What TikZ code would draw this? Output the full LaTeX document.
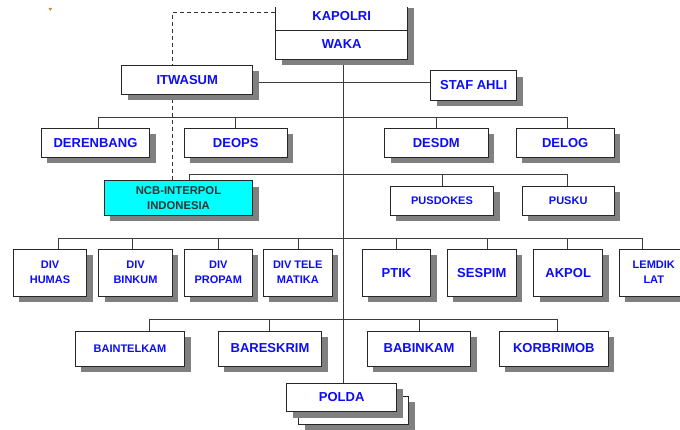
\documentclass[tikz,border=0pt]{standalone}
\usepackage{fontspec}
\setmainfont{Liberation Sans}
\usetikzlibrary{shadows,backgrounds}
\definecolor{shd}{RGB}{128,128,128}
\definecolor{txtblue}{RGB}{12,12,245}
\definecolor{ncbcyan}{RGB}{0,255,255}
\definecolor{lncol}{RGB}{60,60,60}
\tikzset{
  bx/.style={draw=black!85, line width=0.8pt, fill=white, inner sep=0pt,
    font=\bfseries\fontsize{13}{15}\selectfont, text=txtblue, align=center,
    drop shadow={shadow xshift=6pt, shadow yshift=-6pt, fill=shd, opacity=1}},
  sm/.style={font=\bfseries\fontsize{11}{15}\selectfont},
  wh/.style 2 args={minimum width=#1pt, minimum height=#2pt},
  ln/.style={draw=lncol, line width=0.7pt},
  dashln/.style={draw=black!80, line width=0.7pt, dash pattern=on 4pt off 3pt},
}
\begin{document}
\begin{tikzpicture}[x=1pt,y=-1pt]
\useasboundingbox (0,0) rectangle (680,430);
\begin{scope}
\clip (-2,8) rectangle (682,432);
\fill[brown!70!orange] (48.5,8) -- (52,8) -- (50.3,11) -- cycle;
% top
\node[bx, wh={132}{28}] (kapolri) at (341.7,16) {KAPOLRI};
\node[bx, wh={132}{29}] (waka) at (341.7,44.5) {WAKA};
\node[bx, wh={131}{29.3}] (itwasum) at (187.2,79.7) {ITWASUM};
\node[bx, wh={86}{29.3}] (stafahli) at (473.7,85.3) {STAF AHLI};
% level 2
\node[bx, wh={108.4}{29}] (derenbang) at (95.5,142.8) {DERENBANG};
\node[bx, wh={102.7}{29}] (deops) at (235.7,142.8) {DEOPS};
\node[bx, wh={103.3}{29}] (desdm) at (436.3,142.8) {DESDM};
\node[bx, wh={97.7}{29}] (delog) at (565.2,142.8) {DELOG};
% level 3
\node[bx, wh={148.4}{34.6}, fill=ncbcyan, text=black!80, font=\bfseries\fontsize{11.3}{14.7}\selectfont] (ncb) at (178.5,198) {NCB-INTERPOL\\INDONESIA};
\node[bx, sm, wh={103.4}{29}] (pusdokes) at (442,200.8) {PUSDOKES};
\node[bx, sm, wh={91.7}{29}] (pusku) at (568.2,200.8) {PUSKU};
% level 4
\node[bx, sm, wh={73.4}{46.7}] (humas) at (50,272.7) {DIV\\HUMAS};
\node[bx, sm, wh={73.6}{46.7}] (binkum) at (135.5,272.7) {DIV\\BINKUM};
\node[bx, sm, wh={68}{46.7}] (propam) at (218.3,272.7) {DIV\\PROPAM};
\node[bx, sm, wh={69}{46.7}] (telematika) at (297.8,272.7) {DIV TELE\\MATIKA};
\node[bx, wh={68.4}{46.7}] (ptik) at (396.5,272.7) {PTIK};
\node[bx, wh={69}{46.7}] (sespim) at (481.8,272.7) {SESPIM};
\node[bx, wh={69}{46.7}] (akpol) at (568.2,272.7) {AKPOL};
\node[bx, sm, wh={69}{46.7}] (lemdik) at (653.8,272.7) {LEMDIK\\LAT};
% level 5
\node[bx, sm, wh={109.4}{35}] (baintelkam) at (130,348.5) {BAINTELKAM};
\node[bx, wh={103.4}{35}] (bareskrim) at (270,348.5) {BARESKRIM};
\node[bx, wh={103.4}{35}] (babinkam) at (419,348.5) {BABINKAM};
\node[bx, wh={109}{35}] (korbrimob) at (553.8,348.5) {KORBRIMOB};
% polda (stacked)
\node[bx, wh={110}{28.4}] (polda2) at (353.7,410.5) {};
\node[bx, wh={110}{28.4}] (polda) at (341.7,397.5) {POLDA};
\end{scope}
% connectors
\begin{scope}[on background layer]
\fill[white] (0,0) rectangle (680,430);
\coordinate (spine) at (343.5,0);
\draw[ln] (spine |- waka.south) -- (spine |- polda.north);
\coordinate (yI) at (0,82);
\draw[ln] (itwasum.east |- yI) -- (stafahli.west |- yI);
% dashed to NCB
\coordinate (dk) at (172.3,12.7);
\draw[dashln] (kapolri.west |- dk) -- (dk) -- (dk |- ncb.north);
% level 2
\coordinate (d2a) at (98.7,117.3);
\coordinate (d2b) at (235.7,117.3);
\coordinate (d2c) at (436.7,117.3);
\coordinate (d2d) at (567.7,117.3);
\draw[ln] (d2a) -- (d2d);
\draw[ln] (d2a) -- (d2a |- derenbang.north);
\draw[ln] (d2b) -- (d2b |- deops.north);
\draw[ln] (d2c) -- (d2c |- desdm.north);
\draw[ln] (d2d) -- (d2d |- delog.north);
% level 3
\coordinate (n1) at (189.3,174.3);
\coordinate (n2) at (442.3,174.3);
\coordinate (n3) at (567.7,174.3);
\draw[ln] (n1 |- ncb.north) -- (n1) -- (n3);
\draw[ln] (n2) -- (n2 |- pusdokes.north);
\draw[ln] (n3) -- (n3 |- pusku.north);
% level 4
\coordinate (e1) at (58.3,238);
\coordinate (e2) at (132.7,238);
\coordinate (e3) at (218.3,238);
\coordinate (e4) at (298.3,238);
\coordinate (e5) at (396.7,238);
\coordinate (e6) at (487.7,238);
\coordinate (e7) at (567.7,238);
\coordinate (e8) at (642.7,238);
\draw[ln] (e1) -- (e8);
\draw[ln] (e1) -- (e1 |- humas.north);
\draw[ln] (e2) -- (e2 |- binkum.north);
\draw[ln] (e3) -- (e3 |- propam.north);
\draw[ln] (e4) -- (e4 |- telematika.north);
\draw[ln] (e5) -- (e5 |- ptik.north);
\draw[ln] (e6) -- (e6 |- sespim.north);
\draw[ln] (e7) -- (e7 |- akpol.north);
\draw[ln] (e8) -- (e8 |- lemdik.north);
% level 5
\coordinate (f1) at (149.7,319.3);
\coordinate (f2) at (269.3,319.3);
\coordinate (f3) at (419.3,319.3);
\coordinate (f4) at (557,319.3);
\draw[ln] (f1) -- (f4);
\draw[ln] (f1) -- (f1 |- baintelkam.north);
\draw[ln] (f2) -- (f2 |- bareskrim.north);
\draw[ln] (f3) -- (f3 |- babinkam.north);
\draw[ln] (f4) -- (f4 |- korbrimob.north);
\end{scope}
\end{tikzpicture}
\end{document}
